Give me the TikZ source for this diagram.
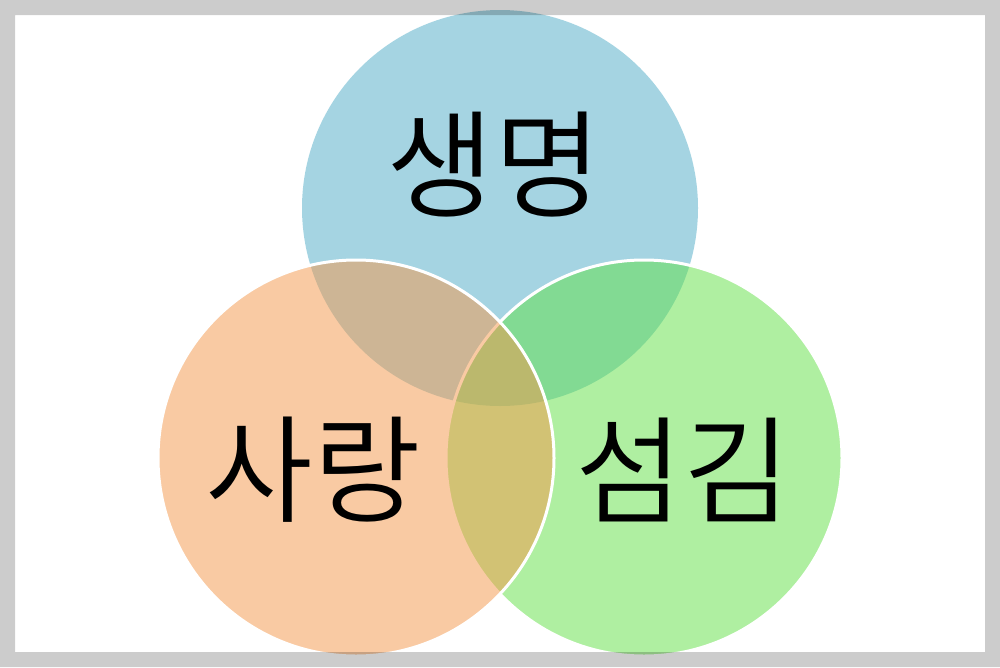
\documentclass[tikz,border=0pt]{standalone}
\usepackage{fontspec}
\newfontfamily\krfont{Noto Sans CJK KR DemiLight}
\definecolor{cblue}{RGB}{77,171,199}
\definecolor{corange}{RGB}{245,151,73}
\definecolor{cgreen}{RGB}{97,225,69}
\begin{document}
\begin{tikzpicture}[x=1pt,y=-1pt,
  vcircle/.style={circle, inner sep=0pt, minimum size=396pt, fill opacity=0.5},
  rimmed/.style={draw=white, line width=3pt, draw opacity=1},
  label/.style={inner sep=0pt, font=\krfont\fontsize{117}{117}\selectfont, text=black}]
\useasboundingbox (0,0) rectangle (1000,667);
\fill[white] (0,0) rectangle (1000,667);
\node[vcircle, fill=cblue] (life) at (500,208) {};
\node[vcircle, fill=cgreen, rimmed] (serve) at (644,458) {};
\node[vcircle, fill=corange, rimmed] (love) at (356,458) {};
\node[label] (lifet) at (494,165) {생명};
\node[label] (lovet) at (313,470) {사랑};
\node[label] (servet) at (683,470) {섬김};
\fill[black, opacity=0.2, even odd rule] (0,0) rectangle (1000,667) (15,15) rectangle (985,652);
\end{tikzpicture}
\end{document}
